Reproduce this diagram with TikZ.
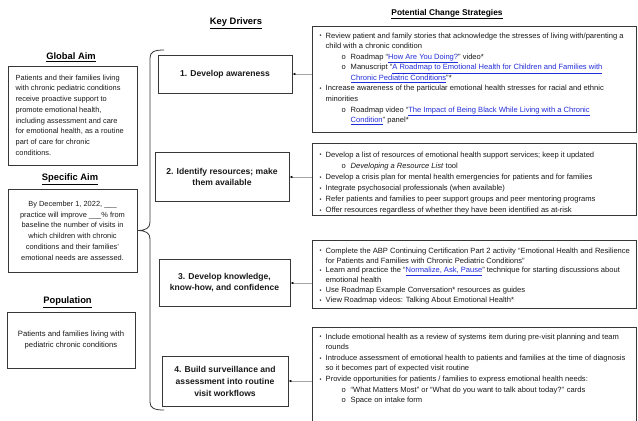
\documentclass[tikz,border=0pt]{standalone}
\usepackage{fontspec}
\setmainfont{Liberation Sans}
\usetikzlibrary{arrows.meta}

\definecolor{boxline}{RGB}{55,55,55}
\definecolor{linkblue}{RGB}{35,45,215}
\definecolor{arrowgray}{RGB}{165,165,165}
\definecolor{ink}{RGB}{25,25,25}

% hyperlink-looking text
\newcommand{\lnk}[1]{\textcolor{linkblue}{\underline{#1}}}
% list helpers: main bullet, its continuation, sub bullet, its continuation
\newcommand{\bul}{\makebox[6bp][l]{\raisebox{0.3bp}{\scalebox{0.75}{\textbullet}}}}
\newcommand{\bcont}{\hspace*{6bp}}
\newcommand{\sbul}{\hspace*{22bp}\makebox[9bp][l]{o}}
\newcommand{\scont}{\hspace*{31bp}}

\tikzset{
  heading/.style={font=\bfseries\fontsize{9.4}{11}\selectfont, text=black, inner sep=0},
  aimbox/.style={draw=boxline, line width=0.8bp, inner sep=0},
  aimtext/.style={font=\fontsize{7.45}{10.8}\selectfont, text=ink, inner sep=0},
  driver/.style={draw=boxline, line width=0.8bp, align=center, inner sep=0,
    font=\bfseries\fontsize{8.6}{11}\selectfont, text=ink},
  stratbox/.style={draw=boxline, line width=0.8bp, inner sep=0},
  strattext/.style={font=\fontsize{7.6}{10.6}\selectfont, text=ink, align=left,
    inner sep=0, anchor=north west},
  conn/.style={draw=arrowgray, line width=0.7bp,
    -{Latex[length=3bp,width=2.6bp,color=black]}},
  bracket/.style={draw=boxline, line width=0.8bp}
}

\begin{document}
\begin{tikzpicture}[x=1bp,y=-1bp]
\useasboundingbox (0,0) rectangle (638,420);

% ---------- headings ----------
\node[heading] (hglob) at (71,57) {\underline{Global Aim}};
\node[heading] (hspec) at (70,179) {\underline{Specific Aim}};
\node[heading] (hpop)  at (67.5,302) {\underline{Population}};
\node[heading] (hkey)  at (236,23) {\underline{Key Drivers}};
\node[heading, font=\bfseries\fontsize{8.4}{10}\selectfont] (hstr) at (447,14) {\underline{Potential Change Strategies}};

% ---------- aims column ----------
\draw[aimbox] (8,66) rectangle (137,165);
\node[aimtext, align=left, anchor=north west] (tglob) at (15.5,74.5) {%
Patients and their families living\\
with chronic pediatric conditions\\
receive proactive support to\\
promote emotional health,\\
including assessment and care\\
for emotional health, as a routine\\
part of care for chronic\\
conditions.};

\node[aimbox, minimum width=129bp, minimum height=83bp] (aimS) at (72.5,230.5) {};
\node[aimtext, align=center] (tspec) at (aimS.center) {%
By December 1, 2022, \_\_\_\\
practice will improve \_\_\_\% from\\
baseline the number of visits in\\
which children with chronic\\
conditions and their families'\\
emotional needs are assessed.};

\node[aimbox, minimum width=128bp, minimum height=56bp] (aimP) at (71,340) {};
\node[aimtext, align=center, font=\fontsize{7.7}{11}\selectfont] (tpop) at (aimP.center) {%
Patients and families living with\\
pediatric chronic conditions};

% ---------- bracket joining the aims to the drivers ----------
\coordinate (brTop) at (164,50);
\coordinate (brBot) at (164,410);
\draw[bracket] (brTop) .. controls (154,50) and (150,52) .. (150,58)
  -- (150,222) .. controls (150,228) and (146,230.5) .. (aimS.east)
  .. controls (146,230.5) and (150,233) .. (150,239)
  -- (150,402) .. controls (150,408) and (154,410) .. (brBot);

% ---------- key drivers ----------
\node[driver, minimum width=134bp, minimum height=38bp] (d1) at (225,74) {1. Develop awareness};
\node[driver, minimum width=134bp, minimum height=49bp] (d2) at (222,177) {2. Identify resources; make\\them available};
\node[driver, minimum width=131bp, minimum height=47bp] (d3) at (224.5,283) {3. Develop knowledge,\\know-how, and confidence};
\node[driver, minimum width=126bp, minimum height=50bp, font=\bfseries\fontsize{8.6}{12}\selectfont] (d4) at (225,381) {4. Build surveillance and\\assessment into routine\\visit workflows};

% ---------- change strategies ----------
\node[stratbox, minimum width=324bp, minimum height=106bp] (sA) at (474,79) {};
\node[strattext] (tA) at (319.5,32.5) {%
\bul Review patient and family stories that acknowledge the stresses of living with/parenting a\\
\bcont child with a chronic condition\\
\sbul Roadmap ``\lnk{How Are You Doing?}'' video*\\
\sbul Manuscript ``\lnk{A Roadmap to Emotional Health for Children and Families with}\\
\scont\lnk{Chronic Pediatric Conditions}''*\\
\bul Increase awareness of the particular emotional health stresses for racial and ethnic\\
\bcont minorities\\
\sbul Roadmap video ``\lnk{The Impact of Being Black While Living with a Chronic}\\
\scont\lnk{Condition}'' panel*};

\node[stratbox, minimum width=324bp, minimum height=72bp] (sB) at (474,179) {};
\node[strattext, font=\fontsize{7.6}{11.2}\selectfont] (tB) at (319.5,151.5) {%
\bul Develop a list of resources of emotional health support services; keep it updated\\
\sbul \textit{Developing a Resource List} tool\\
\bul Develop a crisis plan for mental health emergencies for patients and for families\\
\bul Integrate psychosocial professionals (when available)\\
\bul Refer patients and families to peer support groups and peer mentoring programs\\
\bul Offer resources regardless of whether they have been identified as at-risk};

\node[stratbox, minimum width=324bp, minimum height=68bp] (sC) at (474,274) {};
\node[strattext, font=\fontsize{7.6}{9.9}\selectfont] (tC) at (319.5,247.5) {%
\bul Complete the ABP Continuing Certification Part 2 activity ``Emotional Health and Resilience\\
\bcont for Patients and Families with Chronic Pediatric Conditions''\\
\bul Learn and practice the ``\lnk{Normalize, Ask, Pause}'' technique for starting discussions about\\
\bcont emotional health\\
\bul Use Roadmap Example Conversation* resources as guides\\
\bul View Roadmap videos: Talking About Emotional Health*};

\node[stratbox, minimum width=324bp, minimum height=98bp] (sD) at (474,376) {};
\node[strattext] (tD) at (319.5,333.5) {%
\bul Include emotional health as a review of systems item during pre-visit planning and team\\
\bcont rounds\\
\bul Introduce assessment of emotional health to patients and families at the time of diagnosis\\
\bcont so it becomes part of expected visit routine\\
\bul Provide opportunities for patients / families to express emotional health needs:\\
\sbul ``What Matters Most'' or ``What do you want to talk about today?'' cards\\
\sbul Space on intake form};

% ---------- connectors from strategies to drivers ----------
\draw[conn] (sA.west |- d1.east) -- (d1.east);
\draw[conn] (sB.west |- d2.east) -- (d2.east);
\draw[conn] (sC.west |- d3.east) -- (d3.east);
\draw[conn] (sD.west |- d4.east) -- (d4.east);
\end{tikzpicture}
\end{document}
